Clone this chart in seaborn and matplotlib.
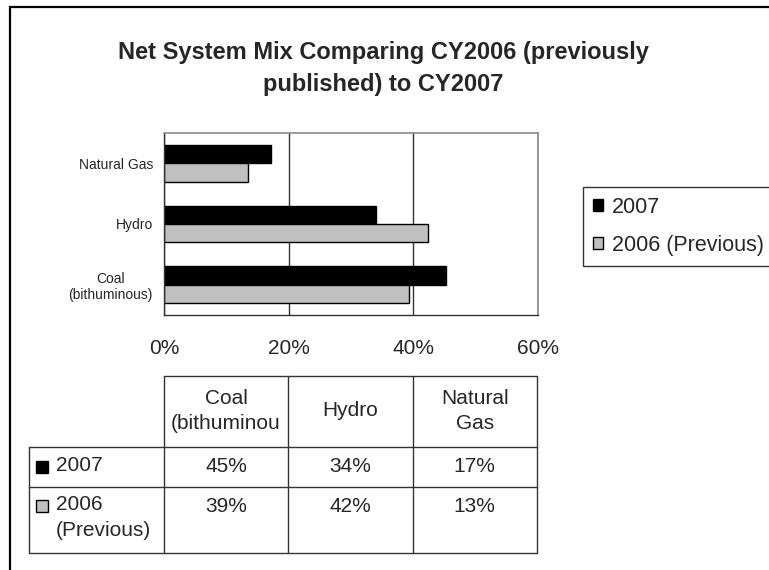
import pandas as pd
import numpy as np
import matplotlib.pyplot as plt
import seaborn as sns
from matplotlib.patches import Patch, Rectangle

# data
plot_order = ["Natural Gas", "Hydro", "Coal\n(bithuminous)"]
series = ["2007", "2006 (Previous)"]
share_2007 = [17.1, 34.0, 45.2]
share_2006 = [13.5, 42.4, 39.3]
xticks = [0, 20, 40, 60]

# table below the chart (columns left to right)
table_cols = ["Coal\n(bithuminou", "Hydro", "Natural\nGas"]
table_rows = ["2007", "2006\n(Previous)"]
table_2007 = [45, 34, 17]
table_2006 = [39, 42, 13]

colors = {"2007": "black", "2006 (Previous)": "#C0C0C0"}

df = pd.DataFrame({
    "source": plot_order * 2,
    "share": share_2007 + share_2006,
    "series": [series[0]] * 3 + [series[1]] * 3,
})

sns.set_style("white")
plt.rcParams["font.family"] = ["Liberation Sans", "DejaVu Sans"]

W, H = 769, 570
fig = plt.figure(figsize=(W / 100, H / 100), dpi=100)

# outer chart border
fig.add_artist(Rectangle((10 / W, -0.1), 2, (H - 7) / H + 0.1, transform=fig.transFigure,
                         fill=False, edgecolor="black", linewidth=1.6))

fig.text(0.4985, 1 - 69 / H, "Net System Mix Comparing CY2006 (previously\npublished) to CY2007",
         ha="center", va="center", fontsize=17, fontweight="bold", linespacing=1.5)

ax = fig.add_axes([164 / W, 1 - 315 / H, (538 - 164) / W, (315 - 133) / H])
sns.barplot(data=df, y="source", x="share", hue="series", order=plot_order,
            hue_order=series, palette=colors, orient="h", width=0.6,
            edgecolor="black", linewidth=1, legend=False, ax=ax)

ax.set_xlim(0, 60)
ax.set_ylim(2.5, -0.5)
ax.set_xticks(xticks)
ax.set_xticklabels([f"{v}%" for v in xticks], fontsize=15)
ax.tick_params(axis="x", length=5, width=1, color="#333333", pad=12, direction="out")
ax.tick_params(axis="y", length=0, pad=8, labelsize=10)
for lab in ax.get_yticklabels():
    lab.set_multialignment("center")
ax.set_yticks([-0.5, 0.5, 1.5, 2.5], minor=True)
ax.tick_params(axis="y", which="minor", length=4, width=1, color="#333333", direction="out")
ax.set_xlabel("")
ax.set_ylabel("")
ax.set_axisbelow(True)
ax.grid(axis="x", color="#333333", linewidth=1)
ax.grid(axis="y", visible=False)
for side in ["top", "right"]:
    ax.spines[side].set_color("#8a8a8a")
    ax.spines[side].set_linewidth(1.2)
for side in ["left", "bottom"]:
    ax.spines[side].set_color("#333333")
    ax.spines[side].set_linewidth(1)

handles = [Patch(facecolor=colors[s], edgecolor="black", linewidth=1) for s in series]
leg = fig.legend(handles, series, loc="upper left", bbox_to_anchor=(583 / W, 1 - 187 / H),
                 fontsize=15.5, frameon=True, fancybox=False, edgecolor="black",
                 handlelength=0.5, handleheight=0.5, handletextpad=0.4,
                 borderpad=0.45, labelspacing=0.8, borderaxespad=0)
leg.get_frame().set_linewidth(1)

# data table
tab = fig.add_axes([29 / W, 1 - 553 / H, (537 - 29) / W, (553 - 376) / H])
lab_w = 135 / 124.5
tab.set_xlim(-lab_w, 3)
tab.set_ylim(177, 0)
tab.axis("off")
row_edges = [0, 71, 111, 177]
line_kw = dict(color="#333333", linewidth=1, clip_on=False)
for x in range(4):
    tab.plot([x, x], [0, 177], **line_kw)
tab.plot([-lab_w, -lab_w], [71, 177], **line_kw)
tab.plot([0, 3], [0, 0], **line_kw)
for y in row_edges[1:]:
    tab.plot([-lab_w, 3], [y, y], **line_kw)

for i, name in enumerate(table_cols):
    tab.text(i + 0.5, 35, name, ha="center", va="center", fontsize=15, linespacing=1.45)
for i, v in enumerate(table_2007):
    tab.text(i + 0.5, 91, f"{v}%", ha="center", va="center", fontsize=15)
for i, v in enumerate(table_2006):
    tab.text(i + 0.5, 130, f"{v}%", ha="center", va="center", fontsize=15)

for (label, s, y) in zip(table_rows, series, [91, 130]):
    tab.plot([-0.98], [y], marker="s", markersize=8, markerfacecolor=colors[s],
             markeredgecolor="black", markeredgewidth=1, clip_on=False)
    tab.text(-0.867, y - 11, label, ha="left", va="top", fontsize=15, linespacing=1.5)

fig.savefig("out.png", dpi=100)
